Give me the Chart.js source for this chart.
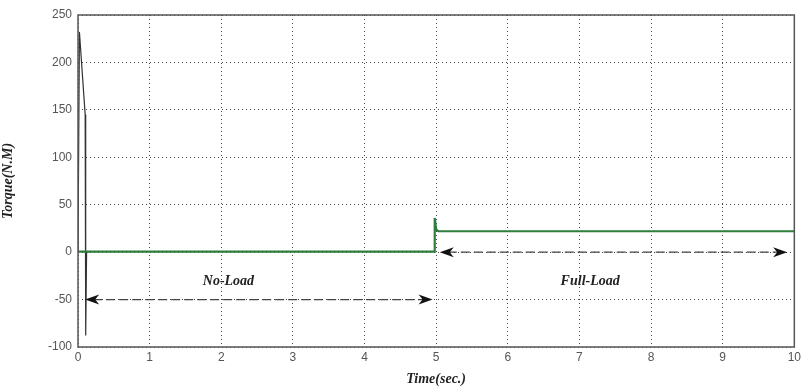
<!DOCTYPE html>
<html>
<head>
<meta charset="utf-8">
<script src="https://cdn.jsdelivr.net/npm/chart.js@4.4.0/dist/chart.umd.min.js"></script>
<style>
html, body { margin: 0; padding: 0; background: #fff; }
#wrap { width: 804px; height: 388px; }
</style>
</head>
<body>
<div id="wrap"><canvas id="torqueChart" width="804" height="388"></canvas></div>
<script>
// start-up transient (dark trace)
var startTime = [0, 0.02, 0.1, 0.105, 0.11, 0.12, 0.14];
var startTorque = [0, 232, 145, 55, -88, 0, 0.5];
// torque trace, load applied at 5 s
var runTime = [0, 4.97, 4.98, 5.0, 5.03, 10];
var runTorque = [0.5, 0.5, 36, 24, 22, 22];

var xTicks = [0, 1, 2, 3, 4, 5, 6, 7, 8, 9, 10];
var yTicks = [-100, -50, 0, 50, 100, 150, 200, 250];

// annotations: labels and double arrows
var zoneLabels = ["No-Load", "Full-Load"];
var labelX = [2.1, 7.15];
var labelY = [-31, -31];
var arrowFrom = [0.1, 5.05];
var arrowTo = [4.95, 9.9];
var arrowY = [-50, 0];

function pts(xs, ys) {
  return xs.map(function (x, i) { return { x: x, y: ys[i] }; });
}

var annotate = {
  id: 'annotate',
  afterDatasetsDraw: function (chart) {
    var c = chart.ctx, xs = chart.scales.x, ys = chart.scales.y, a = chart.chartArea;
    c.save();
    // arrows
    for (var i = 0; i < arrowY.length; i++) {
      var x1 = xs.getPixelForValue(arrowFrom[i]);
      var x2 = xs.getPixelForValue(arrowTo[i]);
      var y = ys.getPixelForValue(arrowY[i]);
      c.strokeStyle = '#444';
      c.lineWidth = 1.2;
      c.setLineDash([9, 4]);
      c.beginPath(); c.moveTo(x1 + 8, y); c.lineTo(x2 - 8, y); c.stroke();
      c.setLineDash([]);
      c.fillStyle = '#111';
      c.beginPath(); c.moveTo(x1, y); c.lineTo(x1 + 14, y - 5); c.lineTo(x1 + 10, y); c.lineTo(x1 + 14, y + 5); c.closePath(); c.fill();
      c.beginPath(); c.moveTo(x2, y); c.lineTo(x2 - 14, y - 5); c.lineTo(x2 - 10, y); c.lineTo(x2 - 14, y + 5); c.closePath(); c.fill();
    }
    // labels
    c.font = 'italic bold 14px "Liberation Serif"';
    c.fillStyle = '#222';
    c.textAlign = 'center';
    c.textBaseline = 'middle';
    for (var j = 0; j < zoneLabels.length; j++) {
      c.fillText(zoneLabels[j], xs.getPixelForValue(labelX[j]), ys.getPixelForValue(labelY[j]));
    }
    // frame
    c.strokeStyle = '#555';
    c.lineWidth = 1.5;
    c.strokeRect(a.left, a.top, a.right - a.left, a.bottom - a.top);
    c.restore();
  }
};

var ctx = document.getElementById('torqueChart').getContext('2d');
var torqueChart = new Chart(ctx, {
  type: 'line',
  data: {
    datasets: [{
      label: 'torque',
      data: pts(runTime, runTorque),
      borderColor: '#2e7d3a',
      borderWidth: 2.2,
      pointRadius: 0,
      tension: 0
    }, {
      label: 'start',
      data: pts(startTime, startTorque),
      borderColor: '#333',
      borderWidth: 1.2,
      pointRadius: 0,
      tension: 0
    }]
  },
  options: {
    responsive: false,
    animation: false,
    layout: { padding: { top: 15, right: 8, left: 0, bottom: 0 } },
    plugins: { legend: { display: false }, tooltip: { enabled: false } },
    scales: {
      x: {
        type: 'linear',
        min: 0, max: 10,
        afterBuildTicks: function (s) { s.ticks = xTicks.map(function (v) { return { value: v }; }); },
        afterFit: function (s) { s.height = 41; },
        grid: { color: '#444', lineWidth: 1, drawTicks: false },
        border: { display: false, dash: [1, 3] },
        ticks: { color: '#555', font: { family: 'Liberation Sans', size: 12 }, padding: 3, maxRotation: 0 },
        title: { display: true, text: 'Time(sec.)', color: '#222', padding: { top: 0, bottom: 0 },
                 font: { family: 'Liberation Serif', size: 14, style: 'italic', weight: 'bold' } }
      },
      y: {
        min: -100, max: 250,
        afterBuildTicks: function (s) { s.ticks = yTicks.map(function (v) { return { value: v }; }); },
        afterFit: function (s) { s.width = 78; },
        grid: { color: '#444', lineWidth: 1, drawTicks: false },
        border: { display: false, dash: [1, 3] },
        ticks: { color: '#555', font: { family: 'Liberation Sans', size: 12 }, padding: 6 },
        title: { display: true, text: 'Torque(N.M)', color: '#222', padding: { top: 0, bottom: 4 },
                 font: { family: 'Liberation Serif', size: 14, style: 'italic', weight: 'bold' } }
      }
    }
  },
  plugins: [annotate]
});
</script>
</body>
</html>
